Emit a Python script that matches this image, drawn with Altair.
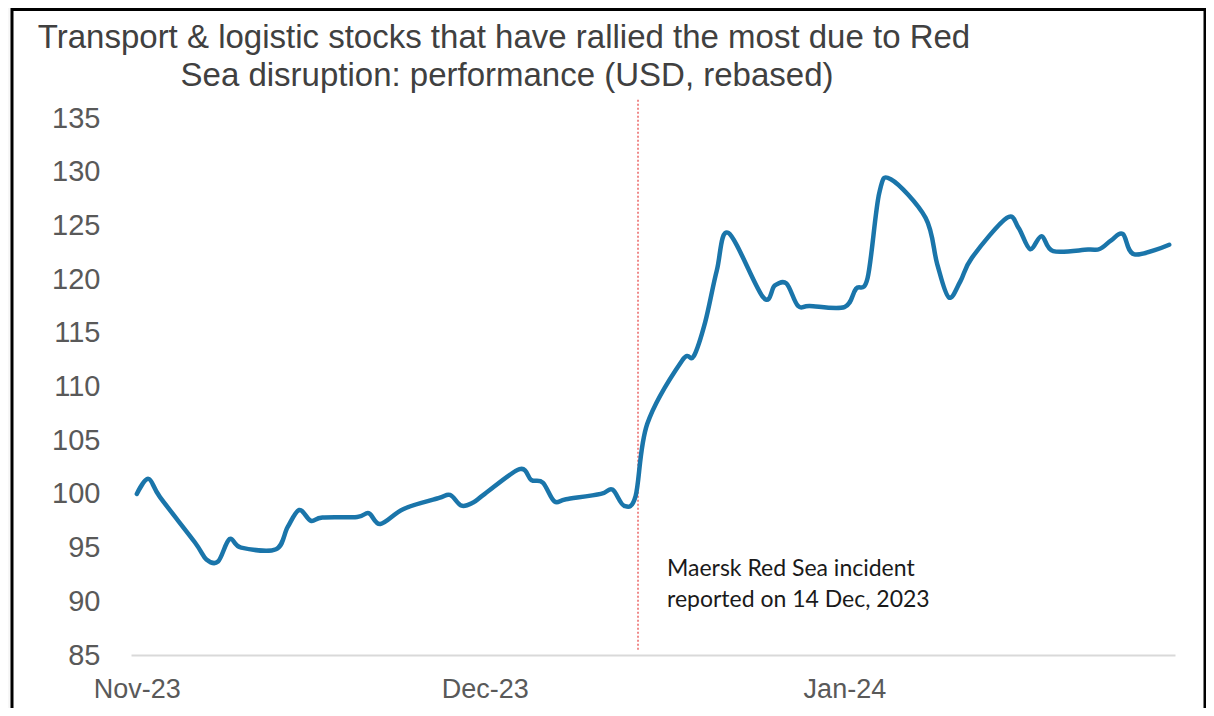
import altair as alt
import pandas as pd

# ---- data ----
dates = [
    "2023-11-01", "2023-11-02", "2023-11-03", "2023-11-06", "2023-11-07", "2023-11-08",
    "2023-11-09", "2023-11-10", "2023-11-13", "2023-11-14", "2023-11-15", "2023-11-16",
    "2023-11-17", "2023-11-20", "2023-11-21", "2023-11-22", "2023-11-24", "2023-11-27",
    "2023-11-28", "2023-11-29", "2023-11-30",
    "2023-12-01", "2023-12-04", "2023-12-05", "2023-12-06", "2023-12-07", "2023-12-08",
    "2023-12-11", "2023-12-12", "2023-12-13", "2023-12-14", "2023-12-15", "2023-12-18",
    "2023-12-19", "2023-12-20", "2023-12-21", "2023-12-22", "2023-12-25", "2023-12-26",
    "2023-12-27", "2023-12-28", "2023-12-29",
    "2024-01-01", "2024-01-02", "2024-01-03", "2024-01-04", "2024-01-05", "2024-01-08",
    "2024-01-09", "2024-01-10", "2024-01-11", "2024-01-12", "2024-01-15", "2024-01-16",
    "2024-01-17", "2024-01-18", "2024-01-19", "2024-01-22", "2024-01-23", "2024-01-24",
    "2024-01-25", "2024-01-26", "2024-01-29",
]
values = [
    100.0, 101.4, 99.7, 95.5, 93.9, 93.7, 95.8, 95.0, 94.85, 96.9, 98.5, 97.5,
    97.8, 97.85, 98.2, 97.2, 98.6, 99.6, 99.9, 98.9, 99.2,
    100.0, 102.3, 101.3, 101.05, 99.3, 99.5, 100.0, 100.4, 98.9, 99.8, 106.5, 112.4,
    112.8, 116.0, 120.8, 124.3, 118.3, 119.4, 119.6, 117.5, 117.5,
    117.4, 119.1, 120.1, 128.0, 129.3, 125.7, 121.4, 118.3, 119.8, 122.0, 125.7, 124.8,
    122.8, 124.0, 122.6, 122.75, 122.8, 123.6, 124.2, 122.3, 123.2,
]
event_date = ["2023-12-14T05:00:00Z"]
event_span = [85.5, 136.7]
y_ticks = [85, 90, 95, 100, 105, 110, 115, 120, 125, 130, 135]
title_lines = [
    "Transport & logistic stocks that have rallied the most due to Red",
    "Sea disruption: performance (USD, rebased)",
]
note_lines = ["Maersk Red Sea incident", "reported on 14 Dec, 2023"]

df = pd.DataFrame({"date": dates, "value": values})
ev = pd.DataFrame({"date": event_date, "y1": [event_span[0]], "y2": [event_span[1]]})
one = pd.DataFrame({"k": [0]})

x_scale = alt.Scale(
    type="utc",
    domain=[
        alt.DateTime(year=2023, month=10, date=31, hours=12, utc=True),
        alt.DateTime(year=2024, month=1, date=29, hours=12, utc=True),
    ],
)
y_scale = alt.Scale(domain=[85, 135], nice=False, zero=False)

frame = alt.Chart(one).mark_rect(fill="white", stroke="black", strokeWidth=3).encode(
    x=alt.value(-119), x2=alt.value(1074), y=alt.value(-108.5), y2=alt.value(640)
)

line = alt.Chart(df).mark_line(
    interpolate="cardinal", color="#1a75aa", strokeWidth=4.5, strokeCap="round"
).encode(
    x=alt.X(
        "date:T",
        scale=x_scale,
        axis=alt.Axis(
            values=[
                alt.DateTime(year=2023, month=11, date=1, utc=True),
                alt.DateTime(year=2023, month=12, date=1, utc=True),
                alt.DateTime(year=2024, month=1, date=1, utc=True),
            ],
            labelExpr="utcFormat(datum.value, '%b-%y')",
            title=None,
            grid=False,
            ticks=False,
            domain=True,
            domainColor="#d9d9d9",
            domainWidth=2,
            labelFont="Liberation Sans",
            labelFontSize=27,
            labelColor="#595959",
            labelPadding=21,
            labelFlush=False,
            labelOverlap=False,
            zindex=1,
        ),
    ),
    y=alt.Y(
        "value:Q",
        scale=y_scale,
        axis=alt.Axis(
            values=y_ticks,
            title=None,
            grid=False,
            ticks=False,
            domain=False,
            labelFont="Liberation Sans",
            labelFontSize=29,
            labelColor="#595959",
            labelPadding=31,
            zindex=1,
        ),
    ),
)

rule = alt.Chart(ev).mark_rule(color="#f08a8a", strokeWidth=2, strokeDash=[2, 2]).encode(
    x=alt.X("date:T", scale=x_scale),
    y=alt.Y("y1:Q", scale=y_scale),
    y2="y2:Q",
)

t1 = alt.Chart(one).mark_text(
    font="Liberation Sans", fontSize=33, color="#404040", align="center", baseline="middle"
).encode(x=alt.value(373), y=alt.value(-80), text=alt.value(title_lines[0]))
t2 = alt.Chart(one).mark_text(
    font="Liberation Sans", fontSize=33, color="#404040", align="center", baseline="middle"
).encode(x=alt.value(376), y=alt.value(-42), text=alt.value(title_lines[1]))

n1 = alt.Chart(one).mark_text(
    font="Lato", fontSize=23, color="#1a1a1a", align="left", baseline="middle"
).encode(x=alt.value(536), y=alt.value(451), text=alt.value(note_lines[0]))
n2 = alt.Chart(one).mark_text(
    font="Lato", fontSize=23, color="#1a1a1a", align="left", baseline="middle"
).encode(x=alt.value(536), y=alt.value(482), text=alt.value(note_lines[1]))

chart = alt.layer(frame, rule, line, t1, t2, n1, n2).properties(
    width=1044,
    height=537,
    autosize=alt.AutoSizeParams(type="none"),
    padding={"left": 123, "top": 110, "right": 31, "bottom": 53},
    background="#f7f7f7",
).configure_view(strokeWidth=0)

chart.save("out.html", embed_options={"renderer": "svg", "actions": False})
